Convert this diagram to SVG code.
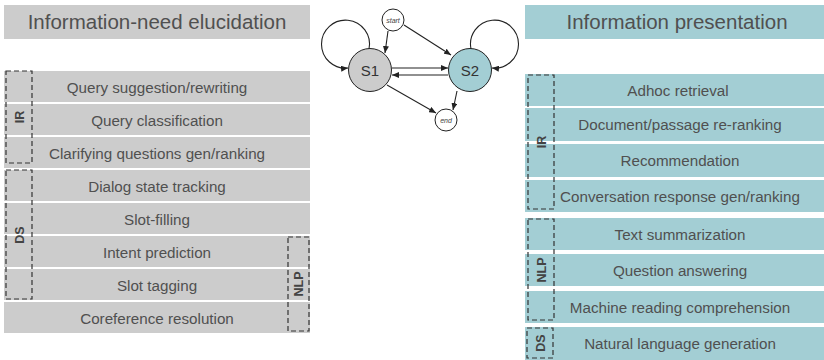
<svg xmlns="http://www.w3.org/2000/svg" width="824" height="360" viewBox="0 0 824 360">
<style>
  .g{fill:#cccccc}
  .t{fill:#a3ced4}
  .title{font-family:"Liberation Sans",Arial,sans-serif;font-size:20.5px;fill:#505050;text-anchor:middle}
  .row{font-family:"Liberation Sans",Arial,sans-serif;font-size:15.2px;fill:#505050;text-anchor:middle}
  .box{fill:none;stroke:#333;stroke-width:1.2;stroke-dasharray:5,3}
  .lab{font-family:"Liberation Sans",Arial,sans-serif;font-size:12.5px;font-weight:bold;fill:#444;text-anchor:middle}
  .node{stroke:#222;stroke-width:1}
  .edge{fill:none;stroke:#222;stroke-width:1.1;marker-end:url(#arr)}
  .nl{font-family:"Liberation Sans",Arial,sans-serif;font-size:15px;fill:#333;text-anchor:middle}
  .sl{font-family:"Liberation Sans",Arial,sans-serif;font-size:7px;font-style:italic;fill:#444;text-anchor:middle}
</style>
<defs>
  <marker id="arr" markerWidth="7" markerHeight="6" refX="7" refY="3" orient="auto" markerUnits="userSpaceOnUse">
    <path d="M0,0 L7,3 L0,6 z" fill="#222"/>
  </marker>
</defs>
<rect width="824" height="360" fill="#fff"/>

<g id="left-panel">
  <g id="left-title"><rect class="g" x="4" y="5" width="306" height="34"/><text class="title" x="157" y="29">Information-need elucidation</text></g>
  <g id="l1"><rect class="g" x="4" y="71" width="306" height="31"/><text class="row" x="157" y="92.5">Query suggestion/rewriting</text></g>
  <g id="l2"><rect class="g" x="4" y="104" width="306" height="31"/><text class="row" x="157" y="125.5">Query classification</text></g>
  <g id="l3"><rect class="g" x="4" y="137" width="306" height="31"/><text class="row" x="157" y="158.5">Clarifying questions gen/ranking</text></g>
  <g id="l4"><rect class="g" x="4" y="170" width="306" height="31"/><text class="row" x="157" y="191.5">Dialog state tracking</text></g>
  <g id="l5"><rect class="g" x="4" y="203" width="306" height="31"/><text class="row" x="157" y="224.5">Slot-filling</text></g>
  <g id="l6"><rect class="g" x="4" y="236" width="306" height="31"/><text class="row" x="157" y="257.5">Intent prediction</text></g>
  <g id="l7"><rect class="g" x="4" y="269" width="306" height="31"/><text class="row" x="157" y="290.5">Slot tagging</text></g>
  <g id="l8"><rect class="g" x="4" y="302" width="306" height="31"/><text class="row" x="157" y="323.5">Coreference resolution</text></g>
  <g id="l-ir"><rect class="box" x="6" y="71" width="26" height="92"/><text class="lab" transform="translate(23.5,117) rotate(-90)">IR</text></g>
  <g id="l-ds"><rect class="box" x="6" y="170" width="26" height="129"/><text class="lab" transform="translate(23.5,235) rotate(-90)">DS</text></g>
  <g id="l-nlp"><rect class="box" x="288" y="237" width="21" height="94"/><text class="lab" transform="translate(302.5,284) rotate(-90)">NLP</text></g>
</g>

<g id="right-panel">
  <g id="right-title"><rect class="t" x="525" y="5" width="299" height="34"/><text class="title" x="677" y="29">Information presentation</text></g>
  <g id="r1"><rect class="t" x="525" y="74" width="299" height="32"/><text class="row" x="678" y="95.5">Adhoc retrieval</text></g>
  <g id="r2"><rect class="t" x="525" y="108" width="299" height="33"/><text class="row" x="680" y="130">Document/passage re-ranking</text></g>
  <g id="r3"><rect class="t" x="525" y="144" width="299" height="33"/><text class="row" x="680" y="166">Recommendation</text></g>
  <g id="r4"><rect class="t" x="525" y="180" width="299" height="32"/><text class="row" x="680" y="201.5">Conversation response gen/ranking</text></g>
  <g id="r5"><rect class="t" x="525" y="218" width="299" height="32"/><text class="row" x="680" y="239.5">Text summarization</text></g>
  <g id="r6"><rect class="t" x="525" y="254" width="299" height="32"/><text class="row" x="680" y="275.5">Question answering</text></g>
  <g id="r7"><rect class="t" x="525" y="291" width="299" height="32"/><text class="row" x="680" y="312.5">Machine reading comprehension</text></g>
  <g id="r8"><rect class="t" x="525" y="327" width="299" height="33"/><text class="row" x="680" y="348.5">Natural language generation</text></g>
  <g id="r-ir"><rect class="box" x="528" y="75" width="26" height="134"/><text class="lab" transform="translate(545.5,142) rotate(-90)">IR</text></g>
  <g id="r-nlp"><rect class="box" x="528" y="219" width="26" height="101"/><text class="lab" transform="translate(545.5,270) rotate(-90)">NLP</text></g>
  <g id="r-ds"><rect class="box" x="527" y="328" width="26" height="30"/><text class="lab" transform="translate(544.5,343) rotate(-90)">DS</text></g>
</g>

<g id="connectors">
  <path class="edge" d="M388,31 L385,53"/>
  <path class="edge" d="M404,25 L451,55"/>
  <path class="edge" d="M392,68 L448,68"/>
  <path class="edge" d="M448,75 L392,75"/>
  <path class="edge" d="M387,85 L436,113"/>
  <path class="edge" d="M457,91 L453,110"/>
  <path class="edge" d="M369,49 A24,24 0 1 0 348,68"/>
  <path class="edge" d="M471,49 A24,24 0 1 1 492,68"/>
</g>

<g id="node-start"><circle class="node" cx="393" cy="20" r="11" fill="#fff"/><text class="sl" x="393" y="22.5">start</text></g>
<g id="node-s1"><circle class="node" cx="370" cy="70" r="21.5" fill="#cccccc"/><text class="nl" x="370" y="75.5">S1</text></g>
<g id="node-s2"><circle class="node" cx="470" cy="70" r="21.5" fill="#a3ced4"/><text class="nl" x="470" y="75.5">S2</text></g>
<g id="node-end"><circle class="node" cx="446" cy="120" r="11" fill="#fff"/><text class="sl" x="446" y="122.5">end</text></g>
</svg>
